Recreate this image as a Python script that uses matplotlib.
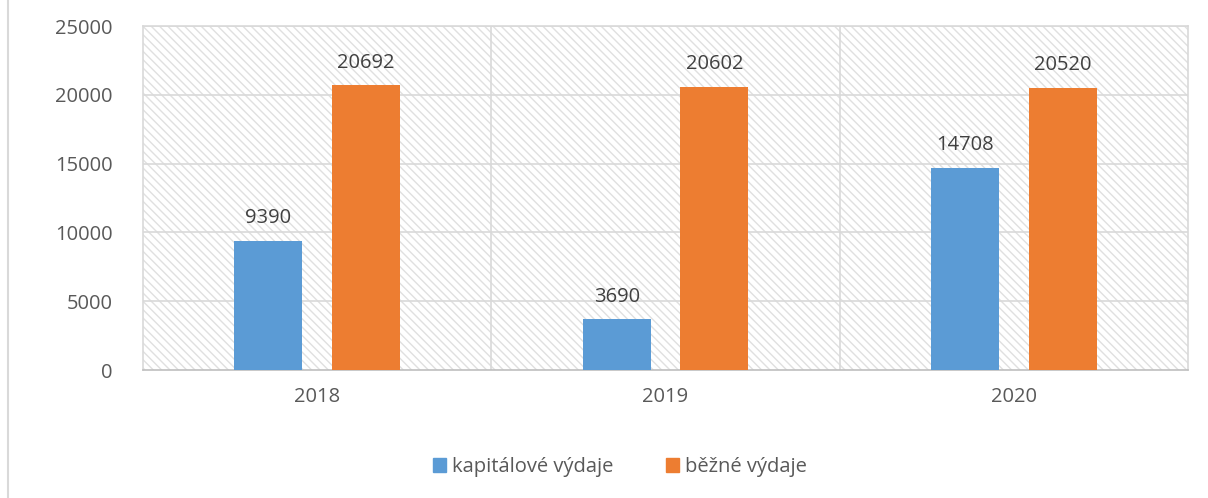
import matplotlib.pyplot as plt
import numpy as np
from matplotlib.lines import Line2D

years = ["2018", "2019", "2020"]
kapitalove = [9390, 3690, 14708]
bezne = [20692, 20602, 20520]
series_labels = ["kapitálové výdaje", "běžné výdaje"]
y_ticks = [0, 5000, 10000, 15000, 20000, 25000]

plt.rcParams["font.family"] = ["Open Sans", "DejaVu Sans"]
plt.rcParams["hatch.linewidth"] = 1.0
plt.rcParams["hatch.color"] = "#e0e0e0"

fig = plt.figure(figsize=(12.08, 4.98), dpi=100)
ax = fig.add_axes([143 / 1208, 1 - 370 / 498, 1045 / 1208, 344 / 498])

# hatched plot area
ax.patch.set_facecolor("white")
ax.patch.set_hatch("\\\\\\\\")
ax.patch.set_edgecolor("#e0e0e0")

x = np.arange(len(years))
offset = 0.14
width = 0.195
b1 = ax.bar(x - offset, kapitalove, width, color="#5B9BD5", label=series_labels[0], zorder=3)
b2 = ax.bar(x + offset, bezne, width, color="#ED7D31", label=series_labels[1], zorder=3)

for bars in (b1, b2):
    ax.bar_label(bars, padding=9, fontsize=14.5, color="#404040")

ax.set_xlim(-0.5, 2.5)
ax.set_ylim(0, 25000)
ax.set_yticks(y_ticks)
ax.set_xticks(x)
ax.set_xticklabels(years)
ax.tick_params(axis="both", length=0, labelsize=14.5, labelcolor="#595959")
ax.tick_params(axis="y", pad=22)
ax.tick_params(axis="x", pad=12)

# gridlines
for yv in y_ticks[1:]:
    ax.axhline(yv, color="#d9d9d9", linewidth=1.2, zorder=2)
for xv in (0.5, 1.5):
    ax.axvline(xv, color="#d9d9d9", linewidth=1.2, zorder=2)

for side in ("top", "right", "left"):
    ax.spines[side].set_color("#d9d9d9")
    ax.spines[side].set_linewidth(1.2)
ax.spines["bottom"].set_color("#bfbfbf")
ax.spines["bottom"].set_linewidth(1.2)

# chart border on the left
fig.add_artist(Line2D([8 / 1208, 8 / 1208], [0, 1], transform=fig.transFigure,
                      color="#d9d9d9", linewidth=1.5))

handles = [plt.Rectangle((0, 0), 1, 1, color="#5B9BD5"),
           plt.Rectangle((0, 0), 1, 1, color="#ED7D31")]
fig.legend(handles, series_labels, loc="center", bbox_to_anchor=(620 / 1208, 1 - 467 / 498),
           ncol=2, frameon=False, fontsize=14.5, labelcolor="#595959",
           handlelength=0.65, handleheight=0.65, handletextpad=0.3, columnspacing=2.6)

fig.savefig("out.png", dpi=100)
